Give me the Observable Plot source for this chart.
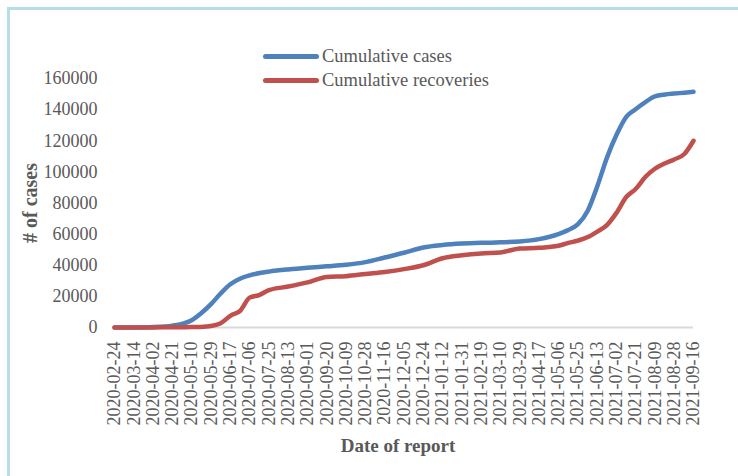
<!DOCTYPE html>
<html>
<head>
<meta charset="utf-8">
<script src="https://cdn.jsdelivr.net/npm/d3@7"></script>
<script src="https://cdn.jsdelivr.net/npm/@observablehq/plot@0.6"></script>
<style>
  html, body { margin: 0; padding: 0; background: #fff; overflow: hidden; }
  #wrap { position: relative; width: 738px; height: 476px; overflow: hidden; font-family: "Liberation Serif", "Times New Roman", serif; }
  #frame { position: absolute; left: 7px; top: 7px; width: 2000px; height: 2000px; border-left: 3px solid #b7dee8; border-top: 3px solid #b7dee8; }
  #legend { position: absolute; left: 263px; top: 44px; color: #595959; font-size: 18.5px; line-height: 24px; }
  .item { display: flex; align-items: center; height: 24px; }
  .swatch { display: inline-block; width: 56px; height: 5px; border-radius: 3px; margin-right: 3px; }
</style>
</head>
<body>
<div id="wrap">
  <div id="frame"></div>
  <div id="chart"></div>
  <div id="legend"></div>
</div>
<script>
// Dates of report (sampled readings from the chart)
const dates = [
  "2020-02-24","2020-03-14","2020-04-02","2020-04-21","2020-05-10","2020-05-19","2020-05-29",
  "2020-06-07","2020-06-17","2020-06-27","2020-07-06","2020-07-16","2020-07-25","2020-08-13",
  "2020-09-01","2020-09-20","2020-10-09","2020-10-28","2020-11-16","2020-12-05","2020-12-24",
  "2021-01-12","2021-01-31","2021-02-19","2021-03-10","2021-03-29","2021-04-17","2021-05-06",
  "2021-05-15","2021-05-25","2021-06-04","2021-06-13","2021-06-23","2021-07-02","2021-07-12",
  "2021-07-21","2021-07-31","2021-08-09","2021-08-19","2021-08-28","2021-09-07","2021-09-16"
];
const cumulativeCases = [
  0, 50, 300, 1200, 4700, 9000, 15000,
  21500, 27800, 31500, 33500, 35000, 35900, 37300,
  38400, 39300, 40300, 42000, 45000, 48000, 51400,
  53000, 53900, 54400, 54700, 55300, 56800, 60000,
  62400, 66200, 75200, 90200, 109500, 123500, 135500,
  140300, 145000, 148500, 149700, 150300, 150900, 151500
];
const cumulativeRecoveries = [
  0, 0, 50, 150, 300, 400, 900,
  2500, 7500, 10900, 19200, 21000, 24000, 26300,
  29000, 32500, 33000, 34400, 35700, 37500, 40000,
  44500, 46400, 47600, 48200, 50800, 51200, 52500,
  54200, 55800, 58100, 61500, 66000, 73500, 84000,
  89000, 97000, 102000, 105500, 108000, 111500, 120000
];
const tickLabels = [
  "2020-02-24","2020-03-14","2020-04-02","2020-04-21","2020-05-10","2020-05-29","2020-06-17",
  "2020-07-06","2020-07-25","2020-08-13","2020-09-01","2020-09-20","2020-10-09","2020-10-28",
  "2020-11-16","2020-12-05","2020-12-24","2021-01-12","2021-01-31","2021-02-19","2021-03-10",
  "2021-03-29","2021-04-17","2021-05-06","2021-05-25","2021-06-13","2021-07-02","2021-07-21",
  "2021-08-09","2021-08-28","2021-09-16"
];
const yTicks = [0, 20000, 40000, 60000, 80000, 100000, 120000, 140000, 160000];
const seriesNames = ["Cumulative cases", "Cumulative recoveries"];
const seriesColors = ["#4f81bd", "#c0504d"];

const parse = d3.utcParse("%Y-%m-%d");
const rows = [];
dates.forEach((d, i) => {
  rows.push({date: parse(d), value: cumulativeCases[i], series: seriesNames[0]});
  rows.push({date: parse(d), value: cumulativeRecoveries[i], series: seriesNames[1]});
});
const tickDates = tickLabels.map(parse);

const chart = Plot.plot({
  width: 738,
  height: 476,
  marginLeft: 114,
  marginRight: 45,
  marginTop: 78,
  marginBottom: 149,
  style: {fontFamily: '"Liberation Serif", "Times New Roman", serif', fontSize: "18px", color: "#595959", background: "transparent", overflow: "visible"},
  x: {type: "utc", domain: [tickDates[0], tickDates[tickDates.length - 1]], ticks: tickDates,
      tickFormat: d3.utcFormat("%Y-%m-%d"), tickRotate: -90, tickSize: 0, tickPadding: 14, label: null},
  y: {domain: [0, 160000], ticks: yTicks, tickFormat: d => String(d), tickSize: 0, tickPadding: 17, label: null},
  color: {domain: seriesNames, range: seriesColors},
  marks: [
    Plot.ruleY([0], {stroke: "#d9d9d9", strokeWidth: 2}),
    Plot.line(rows.filter(r => r.series === seriesNames[0]), {x: "date", y: "value", stroke: "series", strokeWidth: 4.5, curve: "monotone-x", strokeLinecap: "round", strokeLinejoin: "round"}),
    Plot.line(rows.filter(r => r.series === seriesNames[1]), {x: "date", y: "value", stroke: "series", strokeWidth: 4.5, curve: "monotone-x", strokeLinecap: "round", strokeLinejoin: "round"}),
    Plot.text(["# of cases"], {frameAnchor: "left", textAnchor: "middle", dx: -84, rotate: -90, fontWeight: "bold", fontSize: 20, fill: "#595959"}),
    Plot.text(["Date of report"], {frameAnchor: "bottom", textAnchor: "middle", dx: -6, dy: 124, fontWeight: "bold", fontSize: 19, fill: "#595959"})
  ]
});
document.getElementById("chart").appendChild(chart);

const legend = document.getElementById("legend");
seriesNames.forEach((name, i) => {
  const item = document.createElement("div");
  item.className = "item";
  const sw = document.createElement("span");
  sw.className = "swatch";
  sw.style.background = seriesColors[i];
  const lab = document.createElement("span");
  lab.textContent = name;
  item.appendChild(sw);
  item.appendChild(lab);
  legend.appendChild(item);
});
</script>
</body>
</html>
